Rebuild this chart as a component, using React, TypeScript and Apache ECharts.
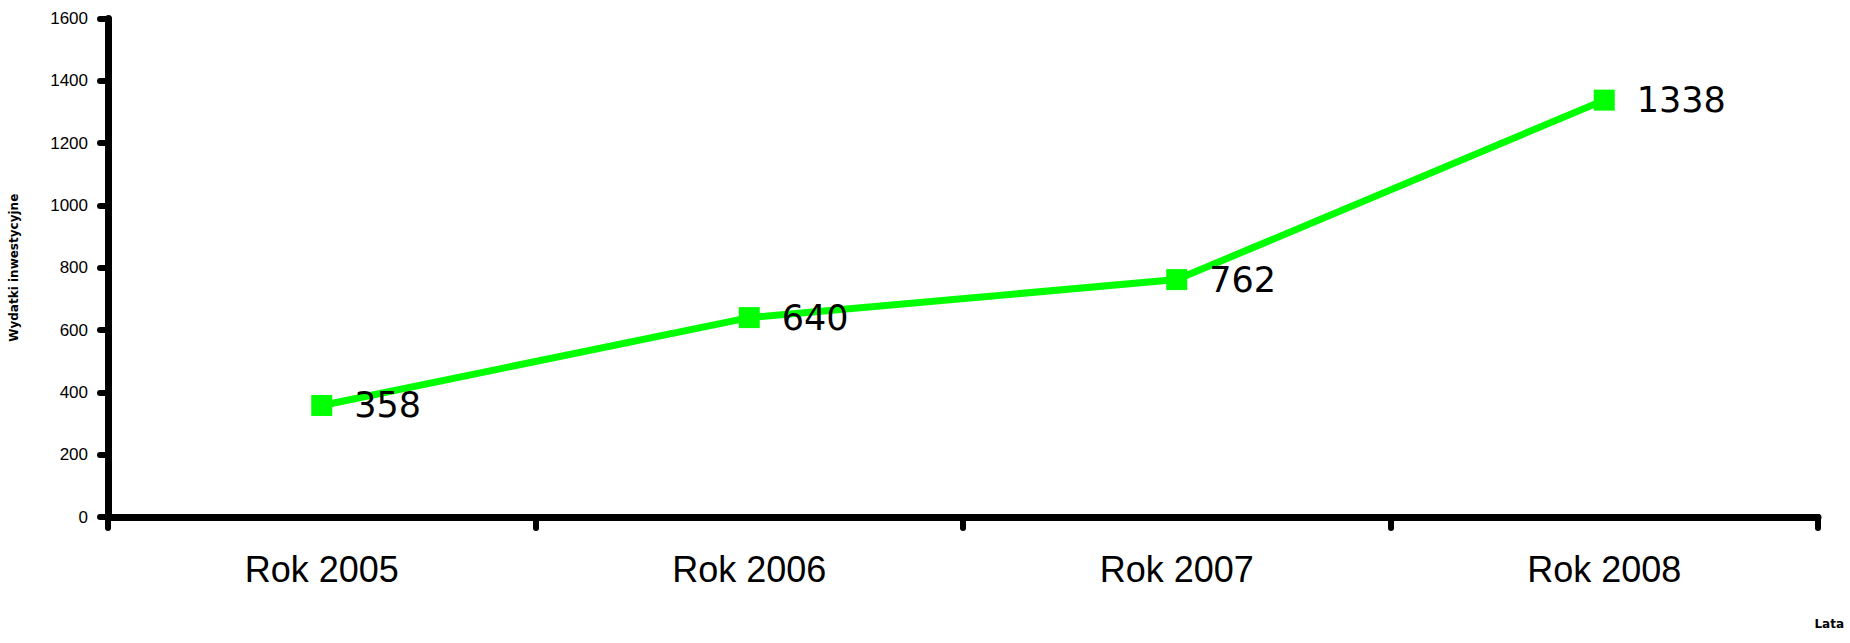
import React, { useEffect, useRef } from "react";
import * as echarts from "echarts";

const categories = ["Rok 2005", "Rok 2006", "Rok 2007", "Rok 2008"];
const values = [358, 640, 762, 1338];
const yTicks = { min: 0, max: 1600, interval: 200 };
const yAxisName = "Wydatki inwestycyjne";
const xAxisName = "Lata";

export default function App() {
  const ref = useRef<HTMLDivElement>(null);
  useEffect(() => {
    if (!ref.current) return;
    const chart = echarts.init(ref.current, undefined, { renderer: "svg" });
    chart.setOption({
      animation: false,
      backgroundColor: "#ffffff",
      grid: { left: 107, right: 32, top: 18.5, bottom: 126, containLabel: false },
      xAxis: {
        type: "category",
        data: categories,
        boundaryGap: true,
        axisLine: { lineStyle: { color: "#000", width: 7, cap: "round" } },
        axisTick: { show: true, length: 11, lineStyle: { color: "#000", width: 6, cap: "round" } },
        axisLabel: {
          color: "#000",
          fontFamily: "Liberation Sans, Arial, sans-serif",
          fontSize: 36,
          margin: 34,
        },
      },
      yAxis: {
        type: "value",
        min: yTicks.min,
        max: yTicks.max,
        interval: yTicks.interval,
        name: yAxisName,
        nameLocation: "middle",
        nameRotate: 90,
        nameGap: 88,
        nameTextStyle: {
          color: "#000",
          fontFamily: "DejaVu Sans, sans-serif",
          fontWeight: "bold",
          fontSize: 12,
        },
        splitLine: { show: false },
        axisLine: { show: true, lineStyle: { color: "#000", width: 7, cap: "round" } },
        axisTick: { show: true, length: 8, lineStyle: { color: "#000", width: 6, cap: "round" } },
        axisLabel: {
          color: "#000",
          fontFamily: "Liberation Sans, Arial, sans-serif",
          fontSize: 17,
          margin: 20,
          formatter: (v: number) => String(v),
        },
      },
      graphic: [
        {
          type: "text",
          right: 6,
          top: 618,
          style: {
            text: xAxisName,
            fill: "#000",
            font: "bold 12px 'DejaVu Sans', sans-serif",
          },
        },
      ],
      series: [
        {
          type: "line",
          data: values,
          symbol: "rect",
          symbolSize: 21,
          lineStyle: { color: "#00ff00", width: 7 },
          itemStyle: { color: "#00ff00" },
          label: {
            show: true,
            position: "right",
            distance: 22,
            color: "#000",
            fontFamily: "DejaVu Sans, sans-serif",
            fontSize: 35,
          },
        },
      ],
    });
    return () => chart.dispose();
  }, []);
  return <div ref={ref} style={{ width: 1850, height: 643, position: "absolute", left: 0, top: 0 }} />;
}
